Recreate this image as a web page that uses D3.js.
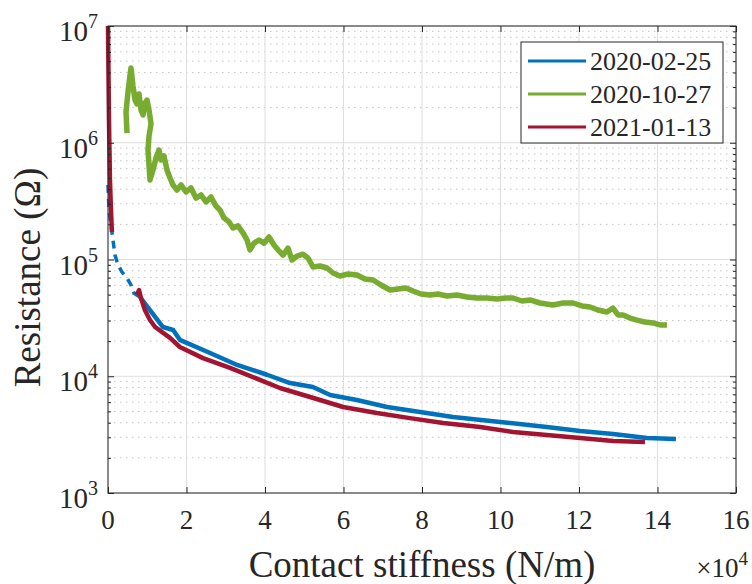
<!DOCTYPE html>
<html>
<head>
<meta charset="utf-8">
<script src="https://cdn.jsdelivr.net/npm/d3@7"></script>
<style>
  body { margin: 0; background: #fff; }
</style>
</head>
<body>
<script>
// values: stiffness in 1e4 N/m, resistance in ohm
var seriesNames = ["2020-02-25", "2020-10-27", "2021-01-13"];
var seriesColors = ["#0072BD", "#77AC30", "#A2142F"];

var blueK = [0, 0.025, 0.076, 0.127, 0.178, 0.255, 0.357, 0.484, 0.586, 0.662, 0.815,
  1.07, 1.40, 1.66, 1.83, 2.60, 3.29, 4.05, 4.64, 5.22, 5.66, 6.34, 7.11, 7.95, 8.79,
  9.99, 11.18, 12.03, 12.87, 13.73, 14.47];
var blueR = [4.35e5, 2.65e5, 1.98e5, 1.47e5, 1.09e5, 8.97e4, 7.8e4, 6.95e4, 6.05e4, 5.16e4, 4.77e4,
  3.69e4, 2.64e4, 2.49e4, 2.05e4, 1.58e4, 1.25e4, 1.03e4, 8.75e3, 8.09e3, 6.91e3, 6.26e3, 5.45e3, 4.94e3, 4.48e3,
  4.06e3, 3.67e3, 3.40e3, 3.20e3, 2.96e3, 2.90e3];
var blueSparseEnd = 10; // first part of the blue trace is only sparse points

var greenK = [0.484, 0.459, 0.510, 0.561, 0.586, 0.637, 0.688, 0.739, 0.790, 0.841, 0.892, 0.943, 0.994,
  1.045, 1.096, 1.045, 1.019, 1.045, 1.070, 1.146, 1.223, 1.299, 1.350, 1.427, 1.503, 1.580, 1.656,
  1.758, 1.860, 1.987, 2.115, 2.242, 2.369, 2.497, 2.624, 2.752, 2.854, 2.955, 3.083, 3.185, 3.312,
  3.439, 3.541, 3.618, 3.720, 3.847, 3.975, 4.102, 4.229, 4.331, 4.459, 4.586, 4.688, 4.815, 4.968,
  5.096, 5.223, 5.401, 5.580, 5.732, 5.911, 6.115, 6.344, 6.548, 6.752, 6.955, 7.185, 7.389, 7.592,
  7.771, 7.975, 8.204, 8.408, 8.637, 8.892, 9.146, 9.401, 9.656, 9.911, 10.140, 10.318, 10.548, 10.752,
  11.006, 11.338, 11.592, 11.847, 12.076, 12.280, 12.484, 12.713, 12.866, 12.994, 13.121, 13.299, 13.478,
  13.682, 13.885, 14.064, 14.242];
var greenR = [1.21e6, 1.83e6, 2.72e6, 3.80e6, 4.37e6, 3.06e6, 2.32e6, 2.15e6, 2.62e6, 1.91e6, 1.73e6, 2.19e6, 2.32e6,
  1.91e6, 1.45e6, 1.14e6, 8.67e5, 6.45e5, 4.80e5, 5.84e5, 7.40e5, 8.67e5, 7.12e5, 7.70e5, 5.84e5, 4.99e5, 4.35e5,
  3.94e5, 4.35e5, 3.79e5, 4.10e5, 3.36e5, 3.57e5, 3.11e5, 3.43e5, 2.87e5, 2.65e5, 2.27e5, 2.10e5, 1.86e5, 1.94e5,
  1.69e5, 1.47e5, 1.21e5, 1.38e5, 1.47e5, 1.38e5, 1.56e5, 1.33e5, 1.21e5, 1.09e5, 1.25e5, 9.90e4, 1.07e5, 1.11e5,
  1.03e5, 8.63e4, 8.80e4, 8.46e4, 7.66e4, 7.22e4, 7.51e4, 7.36e4, 6.81e4, 6.67e4, 6.05e4, 5.48e4, 5.59e4, 5.70e4,
  5.37e4, 5.06e4, 4.97e4, 5.06e4, 4.87e4, 4.97e4, 4.77e4, 4.68e4, 4.68e4, 4.59e4, 4.68e4, 4.68e4, 4.41e4, 4.50e4,
  4.24e4, 4.08e4, 4.24e4, 4.24e4, 4.00e4, 3.92e4, 3.69e4, 3.55e4, 3.84e4, 3.35e4, 3.35e4, 3.15e4, 3.03e4,
  2.91e4, 2.86e4, 2.75e4, 2.75e4];

// red trace: a spike at zero stiffness, then a gap, then the main curve
var redK1 = [0, 0.025, 0.05, 0.076, 0.10];
var redR1 = [1e7, 1.57e6, 4.8e5, 2.65e5, 1.72e5];
var redK2 = [0.74, 0.79, 0.84, 0.94, 1.07, 1.20, 1.58, 1.83, 2.42, 3.11, 3.87, 4.38, 5.15, 5.99, 6.85, 7.69,
  8.54, 9.48, 10.32, 11.18, 12.03, 12.87, 13.68];
var redR2 = [4.97e4, 5.48e4, 4.68e4, 3.69e4, 3.03e4, 2.64e4, 2.13e4, 1.78e4, 1.43e4, 1.18e4, 9.3e3, 7.93e3,
  6.64e3, 5.45e3, 4.84e3, 4.38e3, 3.98e3, 3.67e3, 3.33e3, 3.14e3, 2.96e3, 2.79e3, 2.74e3];

var xTicks = [0, 2, 4, 6, 8, 10, 12, 14, 16];
var yTicks = [1e3, 1e4, 1e5, 1e6, 1e7];

const margin = {top: 26, right: 16, bottom: 91, left: 108},
    W = 752, H = 584,
    width = W - margin.left - margin.right,
    height = H - margin.top - margin.bottom;

var serif = "'Liberation Serif', 'Times New Roman', Times, 'DejaVu Serif', serif";

var svg = d3.select("body").append("svg")
    .attr("width", W)
    .attr("height", H)
    .attr("font-family", serif)
    .style("font-family", serif);

var g = svg.append("g")
    .attr("transform", "translate(" + margin.left + "," + margin.top + ")");

var x = d3.scaleLinear().domain([0, 16]).range([0, width]);
var y = d3.scaleLog().domain([1e3, 1e7]).range([height, 0]);

// minor log ticks 2..9 per decade
var yMinor = [];
yTicks.slice(0, -1).forEach(function(d) {
  for (var m = 2; m <= 9; m++) yMinor.push(d * m);
});

// grid
g.append("g").selectAll("line").data(yMinor).join("line")
    .attr("x1", 0).attr("x2", width)
    .attr("y1", d => y(d)).attr("y2", d => y(d))
    .attr("stroke", "#c4c4c4").attr("stroke-width", 1)
    .attr("stroke-dasharray", "1.5,4.5");
g.append("g").selectAll("line").data(xTicks).join("line")
    .attr("x1", d => x(d)).attr("x2", d => x(d))
    .attr("y1", 0).attr("y2", height)
    .attr("stroke", "#dedede").attr("stroke-width", 1);
g.append("g").selectAll("line").data(yTicks).join("line")
    .attr("x1", 0).attr("x2", width)
    .attr("y1", d => y(d)).attr("y2", d => y(d))
    .attr("stroke", "#dedede").attr("stroke-width", 1);

// data lines
var line = d3.line()
    .x(d => x(d[0]))
    .y(d => y(d[1]));

function pts(ks, rs) { return ks.map((k, i) => [k, rs[i]]); }

var plot = g.append("g");
var bluePts = pts(blueK, blueR);
plot.append("path")
    .attr("d", line(bluePts.slice(0, blueSparseEnd + 1)))
    .attr("fill", "none").attr("stroke", seriesColors[0])
    .attr("stroke-width", 3.5).attr("stroke-dasharray", "8,6");
plot.append("path")
    .attr("d", line(bluePts.slice(blueSparseEnd)))
    .attr("fill", "none").attr("stroke", seriesColors[0])
    .attr("stroke-width", 4.5).attr("stroke-linejoin", "round");

plot.append("path")
    .attr("d", line(pts(greenK, greenR)))
    .attr("fill", "none").attr("stroke", seriesColors[1])
    .attr("stroke-width", 5.5).attr("stroke-linejoin", "round");

[pts(redK1, redR1), pts(redK2, redR2)].forEach(function(p) {
  plot.append("path")
      .attr("d", line(p))
      .attr("fill", "none").attr("stroke", seriesColors[2])
      .attr("stroke-width", 4.5).attr("stroke-linejoin", "round");
});

// axes with inward ticks (box on)
var axColor = "#262626";
function styleAxis(sel) {
  sel.select(".domain").remove();
  sel.selectAll("line").attr("stroke", axColor);
  sel.selectAll("text").remove();
}
g.append("g").attr("transform", "translate(0," + height + ")")
    .call(d3.axisBottom(x).tickValues(xTicks).tickSize(-6)).call(styleAxis);
g.append("g")
    .call(d3.axisTop(x).tickValues(xTicks).tickSize(-6)).call(styleAxis);
g.append("g")
    .call(d3.axisLeft(y).tickValues(yTicks).tickSize(-6)).call(styleAxis);
g.append("g")
    .call(d3.axisLeft(y).tickValues(yMinor).tickSize(-3)).call(styleAxis);
g.append("g").attr("transform", "translate(" + width + ",0)")
    .call(d3.axisRight(y).tickValues(yTicks).tickSize(-6)).call(styleAxis);
g.append("g").attr("transform", "translate(" + width + ",0)")
    .call(d3.axisRight(y).tickValues(yMinor).tickSize(-3)).call(styleAxis);

g.append("rect")
    .attr("width", width).attr("height", height)
    .attr("fill", "none").attr("stroke", axColor).attr("stroke-width", 1);

// tick labels
g.append("g").selectAll("text").data(xTicks).join("text")
    .attr("x", d => x(d)).attr("y", height + 36)
    .attr("text-anchor", "middle")
    .attr("fill", axColor)
    .style("font-size", "27px")
    .text(d => d);

var yl = g.append("g").selectAll("text").data(yTicks).join("text")
    .attr("x", -10).attr("y", d => y(d) + 15)
    .attr("text-anchor", "end")
    .attr("fill", axColor)
    .style("font-size", "29px");
yl.append("tspan").text("10");
yl.append("tspan").attr("dy", -13).style("font-size", "20px")
    .text(d => Math.round(Math.log10(d)));

// axis titles
g.append("text")
    .attr("x", width / 2).attr("y", height + 84)
    .attr("text-anchor", "middle")
    .attr("fill", axColor)
    .style("font-size", "37px")
    .text("Contact stiffness (N/m)");

var ex = g.append("text")
    .attr("x", width + 12).attr("y", height + 84)
    .attr("text-anchor", "end")
    .attr("fill", axColor)
    .style("font-size", "27px");
ex.append("tspan").text("\u00d710");
ex.append("tspan").attr("dy", -12).style("font-size", "19px").text("4");

g.append("text")
    .attr("transform", "translate(" + (-68) + "," + (height / 2 + 18) + ") rotate(-90)")
    .attr("text-anchor", "middle")
    .attr("fill", axColor)
    .style("font-size", "37px")
    .text("Resistance (\u03a9)");

// legend
var lg = svg.append("g").attr("transform", "translate(521,42)");
lg.append("rect")
    .attr("width", 202).attr("height", 101)
    .attr("fill", "#fff").attr("stroke", axColor).attr("stroke-width", 1);
var row = lg.selectAll("g.row").data(seriesNames).join("g")
    .attr("class", "row")
    .attr("transform", (d, i) => "translate(0," + (19 + i * 33) + ")");
row.append("line")
    .attr("x1", 7).attr("x2", 65)
    .attr("stroke", (d, i) => seriesColors[i]).attr("stroke-width", 3);
row.append("text")
    .attr("x", 69).attr("y", 9)
    .attr("fill", axColor)
    .style("font-size", "26px")
    .text(d => d);
</script>
</body>
</html>
